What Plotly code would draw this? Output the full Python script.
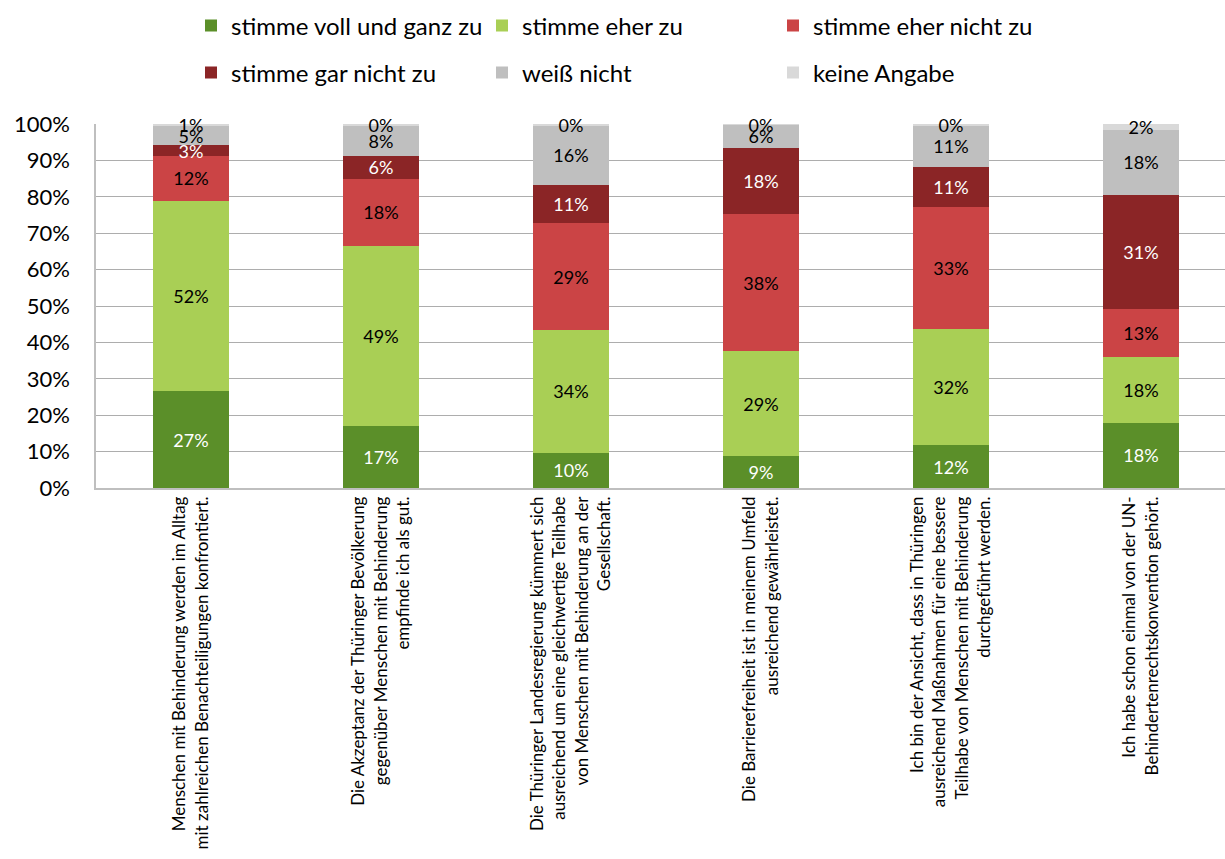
import plotly.graph_objects as go

# Statements (x-axis categories), one <br> per wrapped line
statements = [
    "Menschen mit Behinderung werden im Alltag<br>mit zahlreichen Benachteiligungen konfrontiert.",
    "Die Akzeptanz der Thüringer Bevölkerung<br>gegenüber Menschen mit Behinderung<br>empfinde ich als gut.",
    "Die Thüringer Landesregierung kümmert sich<br>ausreichend um eine gleichwertige Teilhabe<br>von Menschen mit Behinderung an der<br>Gesellschaft.",
    "Die Barrierefreiheit ist in meinem Umfeld<br>ausreichend gewährleistet.",
    "Ich bin der Ansicht, dass in Thüringen<br>ausreichend Maßnahmen für eine bessere<br>Teilhabe von Menschen mit Behinderung<br>durchgeführt werden.",
    "Ich habe schon einmal von der UN-<br>Behindertenrechtskonvention gehört.",
]

# Answer shares in percent
voll_und_ganz = [26.6, 17.1, 9.7, 8.8, 11.7, 17.9]
eher_zu = [52.3, 49.4, 33.8, 28.8, 32.1, 18.0]
eher_nicht_zu = [12.4, 18.4, 29.2, 37.6, 33.3, 13.4]
gar_nicht_zu = [2.8, 6.3, 10.6, 18.3, 11.1, 31.2]
weiss_nicht = [5.3, 8.4, 16.3, 6.3, 11.4, 17.9]
keine_angabe = [0.6, 0.39, 0.39, 0.2, 0.39, 1.6]

y_ticks = [0, 10, 20, 30, 40, 50, 60, 70, 80, 90, 100]
y_tick_labels = ["0%", "10%", "20%", "30%", "40%", "50%", "60%", "70%", "80%", "90%", "100%"]

FONT = "Lato"

series = [
    ("stimme voll und ganz zu", voll_und_ganz, "#5B8F29", "white", "legend"),
    ("stimme eher zu", eher_zu, "#A9CF55", "black", "legend"),
    ("stimme eher nicht zu", eher_nicht_zu, "#CB4445", "black", "legend"),
    ("stimme gar nicht zu", gar_nicht_zu, "#8B2526", "white", "legend2"),
    ("weiß nicht", weiss_nicht, "#BFBFBF", "black", "legend2"),
    ("keine Angabe", keine_angabe, "#D9D9D9", "black", "legend2"),
]

x_pos = list(range(len(statements)))

fig = go.Figure()
for name, vals, color, txtcolor, leg in series:
    fig.add_trace(go.Bar(
        name=name,
        x=x_pos,
        y=vals,
        width=0.4,
        marker=dict(color=color, line=dict(width=0)),
        texttemplate="%{y:.0f}%",
        textposition="inside",
        insidetextanchor="middle",
        textangle=0,
        constraintext="none",
        cliponaxis=False,
        textfont=dict(family=FONT, size=18, color=txtcolor),
        legend=leg,
    ))

legend_common = dict(
    orientation="h",
    xref="container",
    yref="container",
    x=191 / 1225,
    xanchor="left",
    yanchor="middle",
    entrywidth=246,
    entrywidthmode="pixels",
    font=dict(family=FONT, size=24, color="black"),
    bgcolor="rgba(0,0,0,0)",
    traceorder="normal",
)

fig.update_layout(
    width=1225,
    height=859,
    barmode="stack",
    plot_bgcolor="white",
    paper_bgcolor="white",
    margin=dict(l=96, r=0, t=124, b=371),
    uniformtext=dict(minsize=18, mode="show"),
    font=dict(family=FONT, color="black"),
    legend=dict(legend_common, y=1 - 26 / 859),
    legend2=dict(legend_common, y=1 - 73 / 859),
    showlegend=True,
)

fig.update_xaxes(
    range=[-0.5, 5.442],
    tickvals=x_pos,
    ticktext=statements,
    tickangle=-90,
    tickfont=dict(family=FONT, size=17, color="black"),
    showgrid=False,
    showline=True,
    linecolor="#BFBFBF",
    linewidth=1.5,
    ticks="",
    zeroline=False,
)

fig.update_yaxes(
    range=[0, 100],
    tickvals=y_ticks,
    ticktext=y_tick_labels,
    tickfont=dict(family=FONT, size=22, color="black"),
    showgrid=True,
    gridcolor="#ADADAD",
    gridwidth=1,
    showline=True,
    linecolor="#BFBFBF",
    linewidth=1.5,
    ticks="",
    ticklabelstandoff=20,
    zeroline=False,
)

fig.write_html("out.html")
